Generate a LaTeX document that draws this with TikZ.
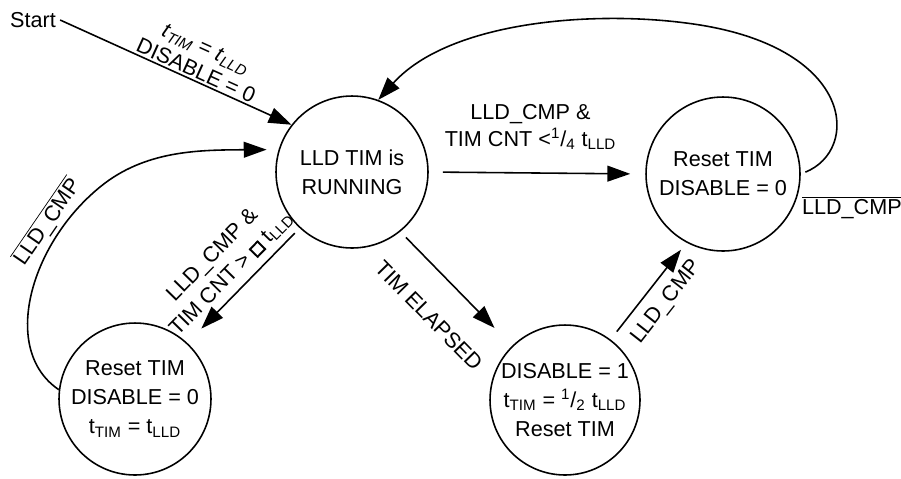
\documentclass[tikz,border=0pt]{standalone}
\usepackage{fontspec}
\setmainfont{Liberation Sans}
\usetikzlibrary{arrows.meta}

\newcommand{\emptybox}{{\setlength{\fboxrule}{1.1pt}\setlength{\fboxsep}{0pt}\fbox{\rule{0pt}{5pt}\hspace{5pt}}}}
\newcommand{\notcmp}{$\overline{\mbox{LLD\_CMP}}$}

\begin{document}
\begin{tikzpicture}[x=0.02cm, y=-0.02cm, >={Triangle[length=13pt, width=9pt]}, line width=0.9pt,
  state/.style={draw, circle, minimum size=3.04cm, inner sep=0pt, align=center, font=\fontsize{12.3}{16.5}\selectfont},
  lbl/.style={font=\fontsize{12.3}{15}\selectfont, align=center, inner sep=2pt}]

\useasboundingbox (0,0) rectangle (901,478);

\node[lbl] (start) at (33,20) {Start};
\node[state] (run) at (352,172) {LLD TIM is\\RUNNING};
\node[state, minimum size=3.08cm] (rst) at (723,174) {Reset TIM\\DISABLE = 0};
\node[state] (lft) at (135,399) {Reset TIM\\DISABLE = 0\\t\textsubscript{TIM} = t\textsubscript{LLD}};
\node[state, minimum size=3.0cm] (mid) at (565,400) {DISABLE = 1\\t\textsubscript{TIM} = \textsuperscript{1}/\textsubscript{2} t\textsubscript{LLD}\\Reset TIM};

\draw[->] (start.east) -- (run.142) node[lbl, font=\fontsize{12.3}{14}\selectfont, inner sep=1pt, pos=0.57, sloped, above=0pt] {\textit{t}\textsubscript{\textit{TIM}} = \textit{t}\textsubscript{\textit{LLD}}\\DISABLE = 0};

\draw[->, shorten <=0.28cm, shorten >=0.3cm] (run.east) -- (rst.west) node[lbl, pos=0.47, above=11pt] {LLD\_CMP \&\\TIM CNT <\textsuperscript{1}/\textsubscript{4} t\textsubscript{LLD}};

\draw[->, shorten <=0.14cm, shorten >=0.4cm] (run.227) -- (lft.47) node[lbl, pos=0.5, sloped, above=2pt] {LLD\_CMP \&\\TIM CNT > \emptybox{} t\textsubscript{LLD}};

\draw[->, shorten <=0.16cm, shorten >=0.5cm] (run.-51) -- (mid) node[lbl, pos=0.5, sloped, below=15pt] {TIM ELAPSED};

\draw[->, shorten <=0.2cm, shorten >=0.18cm] (mid.53) -- (rst.242) node[lbl, pos=0.52, sloped, below=4pt] {LLD\_CMP};

\draw[->, shorten <=0.1cm] (rst.east) node[lbl, anchor=north west, xshift=-0.06cm, yshift=-0.36cm] {\notcmp} .. controls (860,150) and (855,50) .. (700,25) .. controls (600,9) and (450,20) .. (run.70);

\draw[->, shorten >=0.24cm] (lft.173) .. controls (0,350) and (30,244) .. (100,187) node[lbl, pos=0.78, sloped, above=0pt] {\notcmp} .. controls (145,150) and (200,150) .. (run.163);

\end{tikzpicture}
\end{document}
